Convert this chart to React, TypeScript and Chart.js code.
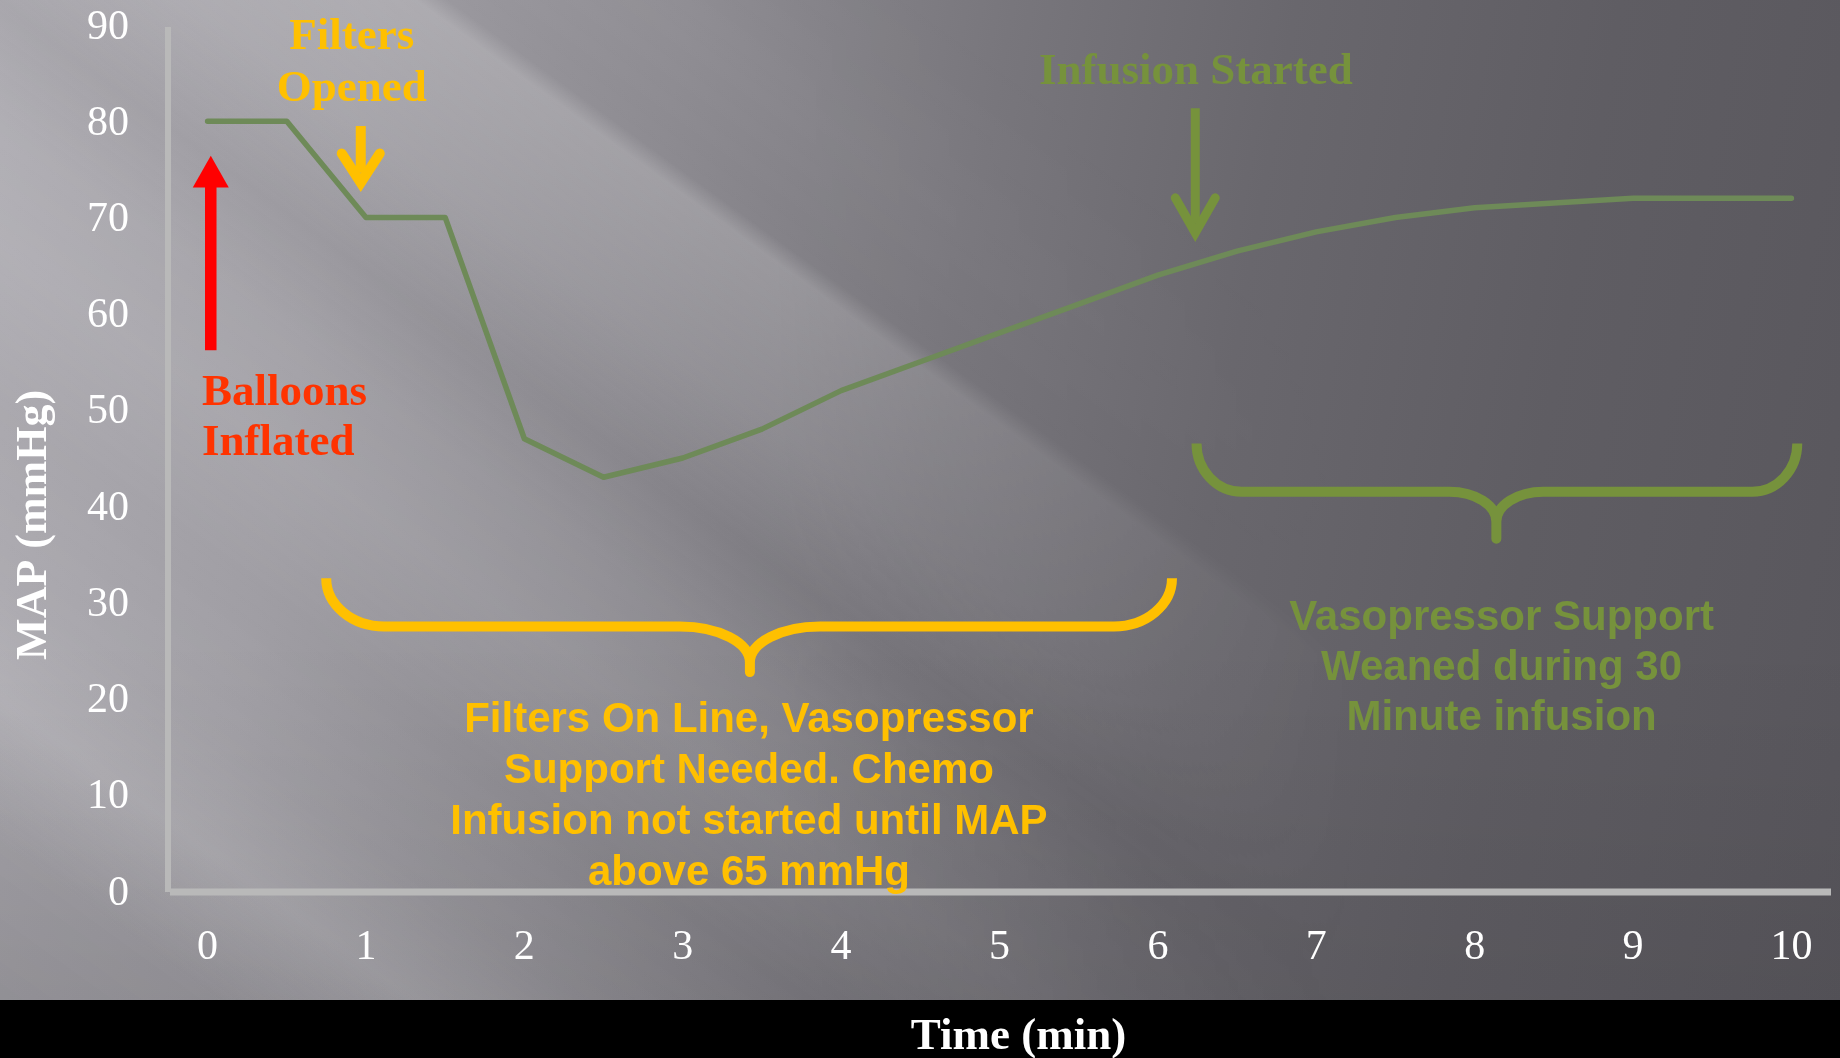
import React, { useEffect, useRef } from "react";
import { Chart, registerables } from "chart.js";

Chart.register(...registerables);

// Mean arterial pressure, sampled every half minute
const minutes = [0, 0.5, 1, 1.5, 2, 2.5, 3, 3.5, 4, 4.5, 5, 5.5, 6, 6.5, 7, 7.5, 8, 8.5, 9, 9.5, 10];
const mapMmHg = [80, 80, 70, 70, 47, 43, 45, 48, 52, 55, 58, 61, 64, 66.5, 68.5, 70, 71, 71.5, 72, 72, 72];

const timeTicks = [0, 1, 2, 3, 4, 5, 6, 7, 8, 9, 10];
const mapTicks = [0, 10, 20, 30, 40, 50, 60, 70, 80, 90];

const xTitle = "Time (min)";
const yTitle = "MAP (mmHg)";

const balloonsLabel = ["Balloons", "Inflated"];
const filtersLabel = ["Filters", "Opened"];
const infusionLabel = "Infusion Started";
const filtersNote = [
  "Filters On Line, Vasopressor",
  "Support Needed. Chemo",
  "Infusion not started until MAP",
  "above 65 mmHg",
];
const weanNote = ["Vasopressor Support", "Weaned during 30", "Minute infusion"];

const SERIF = '"Liberation Serif", "Times New Roman", serif';
const SANS = '"Liberation Sans", Arial, sans-serif';
const GOLD = "#ffc000";
const OLIVE = "#76923c";
const RED_TEXT = "#ff3300";
const AXIS_GREY = "#b9b9b9";
// glyphs sit a little high with a "middle" baseline
const TEXT_NUDGE = 3.5;

type Ctx = CanvasRenderingContext2D;

function drawLines(ctx: Ctx, lines: string[], x: number, ys: number[], font: string, color: string, align: CanvasTextAlign, nudge = TEXT_NUDGE) {
  ctx.font = font;
  ctx.fillStyle = color;
  ctx.textAlign = align;
  ctx.textBaseline = "middle";
  lines.forEach((line, i) => ctx.fillText(line, x, ys[i] + nudge));
}

// Curly brace opening downwards, pointing at (tipX, tipY)
function drawBrace(
  ctx: Ctx, left: number, right: number, tipX: number,
  topY: number, midY: number, tipY: number,
  cornerRx: number, centerRx: number, centerRy: number,
  color: string, width: number
) {
  const ry1 = midY - topY;
  ctx.save();
  ctx.strokeStyle = color;
  ctx.lineWidth = width;
  ctx.lineCap = "butt";
  ctx.lineJoin = "round";
  ctx.beginPath();
  ctx.moveTo(left, topY);
  ctx.ellipse(left + cornerRx, topY, cornerRx, ry1, 0, Math.PI, Math.PI / 2, true);
  ctx.lineTo(tipX - centerRx, midY);
  ctx.ellipse(tipX - centerRx, midY + centerRy, centerRx, centerRy, 0, -Math.PI / 2, 0, false);
  ctx.lineTo(tipX, tipY);
  ctx.lineTo(tipX, midY + centerRy);
  ctx.ellipse(tipX + centerRx, midY + centerRy, centerRx, centerRy, 0, Math.PI, Math.PI * 1.5, false);
  ctx.lineTo(right - cornerRx, midY);
  ctx.ellipse(right - cornerRx, topY, cornerRx, ry1, 0, Math.PI / 2, 0, true);
  ctx.stroke();
  ctx.restore();
}

// Down arrow with an open chevron head
function drawDownArrow(ctx: Ctx, x: number, topY: number, vertexY: number, armY: number, armDx: number, color: string, width: number) {
  ctx.save();
  ctx.strokeStyle = color;
  ctx.lineWidth = width;
  ctx.lineCap = "butt";
  ctx.beginPath();
  ctx.moveTo(x, topY);
  ctx.lineTo(x, vertexY - width);
  ctx.stroke();
  ctx.lineCap = "round";
  ctx.lineJoin = "miter";
  ctx.beginPath();
  ctx.moveTo(x - armDx, armY);
  ctx.lineTo(x, vertexY);
  ctx.lineTo(x + armDx, armY);
  ctx.stroke();
  ctx.restore();
}

const annotationsPlugin = {
  id: "mapAnnotations",
  beforeDatasetsDraw(chart: any) {
    const { ctx, chartArea: a } = chart;
    ctx.save();
    ctx.strokeStyle = AXIS_GREY;
    ctx.lineWidth = 6;
    ctx.beginPath();
    ctx.moveTo(a.left, a.top + 2);
    ctx.lineTo(a.left, a.bottom + 1);
    ctx.stroke();
    ctx.lineWidth = 7;
    ctx.beginPath();
    ctx.moveTo(a.left + 2, a.bottom + 1);
    ctx.lineTo(a.right, a.bottom + 1);
    ctx.stroke();
    ctx.restore();
  },
  afterDraw(chart: any) {
    const ctx: Ctx = chart.ctx;
    const X = (v: number) => chart.scales.x.getPixelForValue(v);
    const Y = (v: number) => chart.scales.y.getPixelForValue(v);

    ctx.save();

    // axis titles
    ctx.save();
    ctx.translate(chart.scales.y.left + 35, Y(38.05));
    ctx.rotate(-Math.PI / 2);
    drawLines(ctx, [yTitle], 0, [0], `bold 44px ${SERIF}`, "#ffffff", "center", 0);
    ctx.restore();
    drawLines(ctx, [xTitle], X(5.12), [chart.height - 23], `bold 45px ${SERIF}`, "#ffffff", "center", 2);

    // balloons inflated: solid red arrow
    const ax = X(0.02);
    ctx.fillStyle = "#ff0000";
    ctx.fillRect(ax - 5.75, Y(73.1) - 1, 11.5, Y(56.2) - Y(73.1) + 1);
    ctx.beginPath();
    ctx.moveTo(ax - 18, Y(73.1));
    ctx.lineTo(ax + 18, Y(73.1));
    ctx.lineTo(ax, Y(76.4));
    ctx.closePath();
    ctx.fill();
    drawLines(ctx, balloonsLabel, X(-0.035), [Y(52.08), Y(46.88)], `bold 45px ${SERIF}`, RED_TEXT, "left");

    // filters opened
    drawLines(ctx, filtersLabel, X(0.91), [Y(89.09), Y(83.68)], `bold 45px ${SERIF}`, GOLD, "center");
    drawDownArrow(ctx, X(0.967), Y(79.5), Y(73.6), Y(76.64), 19, GOLD, 10);

    // infusion started
    drawLines(ctx, [infusionLabel], X(6.24), [Y(85.45)], `bold 45px ${SERIF}`, OLIVE, "center");
    drawDownArrow(ctx, X(6.236), Y(81.34), Y(68.4), Y(72.04), 20, OLIVE, 9);

    // bracketed phases
    drawBrace(ctx, X(0.749), X(6.089), X(3.424), Y(32.5), Y(27.5), Y(22.75), 58, 70, 36, GOLD, 10);
    drawLines(ctx, filtersNote, X(3.418), [Y(18.09), Y(12.79), Y(7.48), Y(2.18)], `bold 42px ${SANS}`, GOLD, "center");

    drawBrace(ctx, X(6.244), X(10.037), X(8.137), Y(46.5), Y(41.5), Y(36.6), 45, 47, 30, OLIVE, 10);
    drawLines(ctx, weanNote, X(8.17), [Y(28.74), Y(23.49), Y(18.25)], `bold 42px ${SANS}`, OLIVE, "center");

    ctx.restore();
  },
};

export default function App() {
  const canvasRef = useRef<HTMLCanvasElement | null>(null);

  useEffect(() => {
    const canvas = canvasRef.current;
    if (!canvas) return;
    const chart = new Chart(canvas, {
      type: "line",
      data: {
        datasets: [
          {
            label: "MAP",
            data: minutes.map((m, i) => ({ x: m, y: mapMmHg[i] })),
            borderColor: "#6e8a58",
            borderWidth: 5.5,
            borderJoinStyle: "round",
            borderCapStyle: "round",
            pointRadius: 0,
            tension: 0,
            fill: false,
          },
        ],
      },
      options: {
        animation: false,
        responsive: false,
        maintainAspectRatio: false,
        devicePixelRatio: 1,
        layout: { padding: { left: 0, top: 25, right: 9, bottom: 0 } },
        plugins: { legend: { display: false }, tooltip: { enabled: false } },
        scales: {
          x: {
            type: "linear",
            min: -0.25,
            max: 10.25,
            afterBuildTicks: (scale: any) => {
              scale.ticks = timeTicks.map((v) => ({ value: v }));
            },
            afterFit: (scale: any) => {
              scale.height = 167;
              scale.paddingLeft = 0;
              scale.paddingRight = 0;
            },
            grid: { display: false, drawTicks: false },
            border: { display: false },
            ticks: {
              color: "#ffffff",
              font: { family: SERIF, size: 42, lineHeight: 1 },
              padding: 35.5,
              maxRotation: 0,
              autoSkip: false,
            },
            title: { display: false },
          },
          y: {
            type: "linear",
            min: 0,
            max: 90,
            afterBuildTicks: (scale: any) => {
              scale.ticks = mapTicks.map((v) => ({ value: v }));
            },
            afterFit: (scale: any) => {
              scale.width = 168;
              scale.paddingTop = 0;
              scale.paddingBottom = 0;
            },
            grid: { display: false, drawTicks: false },
            border: { display: false },
            ticks: {
              color: "#ffffff",
              font: { family: SERIF, size: 42, lineHeight: 1 },
              padding: 39,
              labelOffset: 2.5,
              autoSkip: false,
            },
            title: { display: false },
          },
        },
      },
      plugins: [annotationsPlugin],
    } as any);
    return () => chart.destroy();
  }, []);

  const streaks =
    "linear-gradient(36deg, rgba(0,0,0,0.07) 0%, rgba(0,0,0,0.03) 9%, rgba(255,255,255,0.13) 15%, rgba(255,255,255,0.05) 20%, rgba(255,255,255,0.01) 27%, rgba(255,255,255,0.09) 34%, rgba(255,255,255,0.06) 39%, rgba(0,0,0,0.02) 44%, rgba(255,255,255,0.10) 50%, rgba(255,255,255,0.18) 56.8%, rgba(255,255,255,0) 57.8%, rgba(255,255,255,0.03) 64%, rgba(255,255,255,0) 72%)";
  const mask = "linear-gradient(to right, #000 0%, #000 42%, rgba(0,0,0,0) 74%)";

  return (
    <div
      style={{
        position: "fixed",
        left: 0,
        top: 0,
        width: 1840,
        height: 1058,
        overflow: "hidden",
        background:
          "linear-gradient(to top, rgba(0,0,0,0.08) 0%, rgba(0,0,0,0) 40%), linear-gradient(100deg, #adabb1 0%, #9f9da3 18%, #8d8b91 34%, #78767c 50%, #69676d 64%, #5f5d63 80%, #58565c 100%)",
      }}
    >
      <div
        style={{
          position: "absolute",
          inset: 0,
          background: streaks,
          WebkitMaskImage: mask,
          maskImage: mask,
        }}
      />
      <div style={{ position: "absolute", left: 0, top: 1000, width: 1840, height: 58, background: "#000" }} />
      <canvas ref={canvasRef} width={1840} height={1058} style={{ position: "absolute", left: 0, top: 0 }} />
    </div>
  );
}
